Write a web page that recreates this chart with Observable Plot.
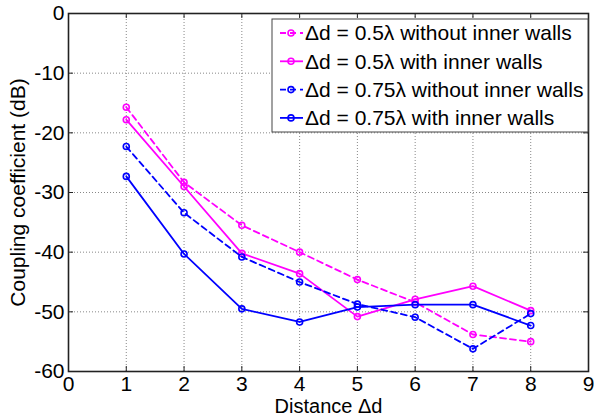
<!DOCTYPE html>
<html><head><meta charset="utf-8">
<script src="https://cdn.jsdelivr.net/npm/d3@7"></script>
<script src="https://cdn.jsdelivr.net/npm/@observablehq/plot@0.6"></script>
<style>
body{margin:0;background:#fff;}
#wrap{position:relative;width:594px;height:416px;}
#wrap > svg{display:block;}
#legend{position:absolute;left:0;top:0;}
</style></head><body><div id="wrap"></div>
<script>
const distance = [1, 2, 3, 4, 5, 6, 7, 8];
const seriesNames = [
  "Δd = 0.5λ without inner walls",
  "Δd = 0.5λ with inner walls",
  "Δd = 0.75λ without inner walls",
  "Δd = 0.75λ with inner walls"
];
const seriesColors = ["#ff00ff", "#ff00ff", "#0000ff", "#0000ff"];
const seriesDashed = [true, false, true, false];
const halfLambdaWithout = [-15.7, -28.3, -35.5, -40.0, -44.6, -48.4, -53.8, -55.0];
const halfLambdaWith = [-17.8, -29.0, -40.2, -43.6, -50.8, -47.9, -45.7, -49.8];
const threeQuarterWithout = [-22.3, -33.4, -40.8, -45.0, -48.7, -50.9, -56.2, -50.3];
const threeQuarterWith = [-27.3, -40.3, -49.5, -51.7, -49.2, -48.8, -48.8, -52.3];
const seriesValues = [halfLambdaWithout, halfLambdaWith, threeQuarterWithout, threeQuarterWith];
const xTicks = [0, 1, 2, 3, 4, 5, 6, 7, 8, 9];
const yTicks = [-60, -50, -40, -30, -20, -10, 0];

const font = "'Liberation Sans', Arial, sans-serif";
const fs = 21;
const W = 594, H = 416, mL = 68, mR = 6, mT = 13, mB = 45;
const pw = W - mL - mR, ph = H - mT - mB;

const lineMarks = [];
seriesValues.forEach((vals, i) => {
  const data = distance.map((d, j) => ({x: d, y: vals[j]}));
  lineMarks.push(Plot.line(data, {
    x: "x", y: "y", stroke: seriesColors[i], strokeWidth: 1.8,
    strokeDasharray: seriesDashed[i] ? "6,4" : null
  }));
  lineMarks.push(Plot.dot(data, {
    x: "x", y: "y", r: 3, stroke: seriesColors[i], strokeWidth: 1.6, fill: "none"
  }));
});

const chart = Plot.plot({
  width: W, height: H,
  marginLeft: mL, marginRight: mR, marginTop: mT, marginBottom: mB,
  style: {fontFamily: font, fontSize: fs + "px", background: "#fff", color: "#000"},
  x: {domain: [0, 9]},
  y: {domain: [-60, 0]},
  marks: [
    Plot.ruleX(xTicks.slice(1, -1), {stroke: "#888", strokeDasharray: "1,2", strokeWidth: 1}),
    Plot.ruleY(yTicks.slice(1, -1), {stroke: "#888", strokeDasharray: "1,2", strokeWidth: 1}),
    ...lineMarks,
    Plot.ruleX(xTicks, {stroke: "#222", insetTop: ph - 5}),
    Plot.ruleX(xTicks, {stroke: "#222", insetBottom: ph - 5}),
    Plot.ruleY(yTicks, {stroke: "#222", insetRight: pw - 5}),
    Plot.ruleY(yTicks, {stroke: "#222", insetLeft: pw - 5}),
    Plot.frame({stroke: "#222", strokeWidth: 1.6}),
    Plot.axisX({ticks: xTicks, tickSize: 0, tickPadding: 5, fontSize: fs,
      tickFormat: d => String(d), label: null}),
    Plot.axisX({ticks: [], tickSize: 0, fontSize: 20,
      label: "Distance Δd", labelAnchor: "center", labelArrow: "none", labelOffset: 41}),
    Plot.axisY({ticks: yTicks, tickSize: 0, tickPadding: 4, fontSize: fs,
      tickFormat: d => String(d),
      label: "Coupling coefficient (dB)", labelAnchor: "center", labelArrow: "none", labelOffset: 58})
  ]
});
const wrap = document.getElementById("wrap");
wrap.appendChild(chart);

// Legend overlay
const lg = d3.select(wrap).append("svg").attr("id", "legend")
  .attr("width", W).attr("height", H);
const bx = 272, by = 19, bw = W - mR - bx, bh = 113;
lg.append("rect").attr("x", bx).attr("y", by).attr("width", bw).attr("height", bh)
  .attr("fill", "#fff").attr("stroke", "#444").attr("stroke-width", 1);
seriesNames.forEach((name, i) => {
  const cy = 33 + i * 28.3;
  lg.append("line").attr("x1", 280).attr("x2", 303).attr("y1", cy).attr("y2", cy)
    .attr("stroke", seriesColors[i]).attr("stroke-width", 1.8)
    .attr("stroke-dasharray", seriesDashed[i] ? "6,4" : null);
  lg.append("circle").attr("cx", 291).attr("cy", cy).attr("r", 3)
    .attr("fill", "none").attr("stroke", seriesColors[i]).attr("stroke-width", 1.6);
  lg.append("text").attr("x", 305).attr("y", cy).attr("dy", "0.35em")
    .attr("font-family", font).attr("font-size", fs).attr("fill", "#000").text(name);
});
</script></body></html>
